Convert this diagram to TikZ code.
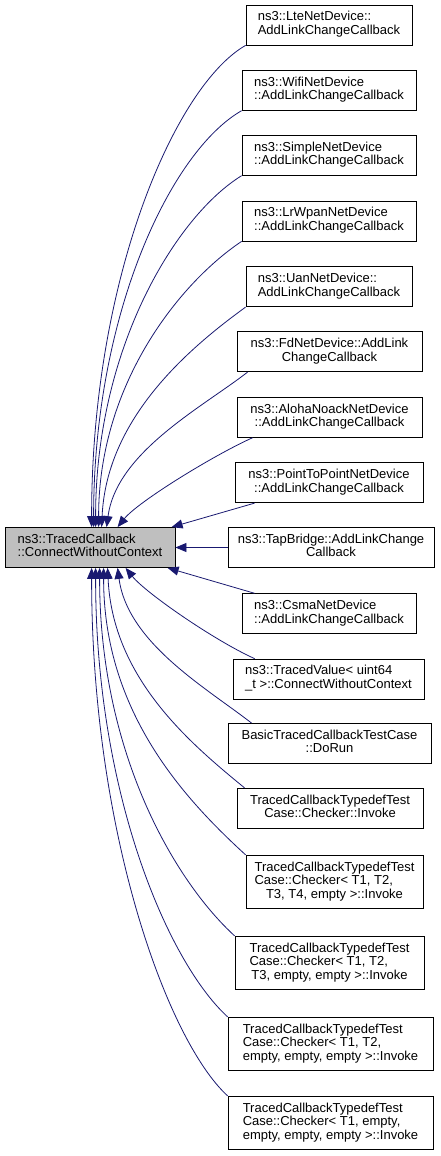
\documentclass[tikz,border=0pt]{standalone}
\usepackage{fontspec}
\setmainfont{Liberation Sans}
\usetikzlibrary{arrows.meta}

\definecolor{edgeblue}{HTML}{191970}
\definecolor{mainfill}{HTML}{BFBFBF}

\newcommand{\lbl}[2]{\begin{tabular}{@{}l@{}}#1\\\multicolumn{1}{@{}c@{}}{#2}\end{tabular}}

\tikzset{
	fn/.style={draw=black, line width=0.8pt, inner xsep=3pt, inner ysep=6.5pt, font=\fontsize{13}{13.5}\selectfont},
	edge/.style={-{Triangle[length=11pt,width=9pt]}, draw=edgeblue, line width=0.8pt},
}

\begin{document}
\begin{tikzpicture}[x=1pt, y=-1pt]

				\useasboundingbox (0, 0) rectangle (440, 1156);

				\node [fn, fill=mainfill, minimum width=170pt] (TC) at (90, 547.5) {\lbl{ns3::TracedCallback}{::ConnectWithoutContext}};

				\node [fn, minimum width=166pt] (A0) at (329, 25) {\lbl{ns3::LteNetDevice::}{AddLinkChangeCallback}};
				\node [fn, minimum width=174pt] (A1) at (329, 90.3) {\lbl{ns3::WifiNetDevice}{::AddLinkChangeCallback}};
				\node [fn, minimum width=174pt] (A2) at (329, 155.3) {\lbl{ns3::SimpleNetDevice}{::AddLinkChangeCallback}};
				\node [fn, minimum width=174pt] (A3) at (329, 221) {\lbl{ns3::LrWpanNetDevice}{::AddLinkChangeCallback}};
				\node [fn, minimum width=166pt] (A4) at (329, 286.7) {\lbl{ns3::UanNetDevice::}{AddLinkChangeCallback}};
				\node [fn, minimum width=185pt] (A5) at (329.5, 351.7) {\lbl{ns3::FdNetDevice::AddLink}{ChangeCallback}};
				\node [fn, minimum width=185pt] (A6) at (329.5, 417.3) {\lbl{ns3::AlohaNoackNetDevice}{::AddLinkChangeCallback}};
				\node [fn, minimum width=188pt] (A7) at (329, 482.7) {\lbl{ns3::PointToPointNetDevice}{::AddLinkChangeCallback}};
				\node [fn, minimum width=206pt] (A8) at (331, 547.5) {\lbl{ns3::TapBridge::AddLinkChange}{Callback}};
				\node [fn, minimum width=174pt] (A9) at (329, 613.7) {\lbl{ns3::CsmaNetDevice}{::AddLinkChangeCallback}};
				\node [fn, minimum width=191pt] (A10) at (328.5, 679) {\lbl{ns3::TracedValue< uint64}{\_t >::ConnectWithoutContext}};
				\node [fn, minimum width=203pt] (A11) at (329.5, 743.5) {\lbl{BasicTracedCallbackTestCase}{::DoRun}};
				\node [fn, minimum width=186pt] (A12) at (330, 808.3) {\lbl{TracedCallbackTypedefTest}{Case::Checker::Invoke}};
				\node [fn, minimum width=177pt] (A13) at (334.5, 882) {\lbl{TracedCallbackTypedefTest\\Case::Checker< T1, T2,}{T3, T4, empty >::Invoke}};
				\node [fn, minimum width=189pt] (A14) at (329.5, 963) {\lbl{TracedCallbackTypedefTest\\Case::Checker< T1, T2,}{T3, empty, empty >::Invoke}};
				\node [fn, minimum width=205pt] (A15) at (330.5, 1044) {\lbl{TracedCallbackTypedefTest\\Case::Checker< T1, T2,}{empty, empty, empty >::Invoke}};
				\node [fn, minimum width=205pt] (A16) at (330.5, 1123) {\lbl{TracedCallbackTypedefTest\\Case::Checker< T1, empty,}{empty, empty, empty >::Invoke}};

				\draw [edge] (A0.south west) .. controls +(-70, 40) and +(0, -250) .. ([xshift=87pt]TC.north west);
				\draw [edge] (A1.south west) .. controls +(-70, 40) and +(0, -215) .. ([xshift=89pt]TC.north west);
				\draw [edge] (A2.south west) .. controls +(-65, 40) and +(0, -180) .. ([xshift=91pt]TC.north west);
				\draw [edge] (A3.south west) .. controls +(-60, 40) and +(0, -145) .. ([xshift=94pt]TC.north west);
				\draw [edge] (A4.south west) .. controls +(-55, 40) and +(5, -110) .. ([xshift=97pt]TC.north west);
				\draw [edge] ([xshift=11pt]A5.south west) .. controls +(-45, 35) and +(10, -75) .. ([xshift=102pt]TC.north west);
				\draw [edge] ([xshift=16pt]A6.south west) .. controls +(-40, 18) and +(20, -25) .. ([xshift=113pt]TC.north west);
				\draw [edge] ([xshift=20pt]A7.south west) -- ([xshift=167pt]TC.north west);
				\draw [edge] (A8) -- (TC);

				\draw [edge] ([xshift=13pt]A9.north west) -- ([xshift=163pt]TC.south west);
				\draw [edge] ([xshift=22pt]A10.north west) .. controls +(-40, -18) and +(20, 25) .. ([xshift=121pt]TC.south west);
				\draw [edge] ([xshift=24pt]A11.north west) .. controls +(-45, -35) and +(10, 75) .. ([xshift=113pt]TC.south west);
				\draw [edge] ([xshift=8pt]A12.north west) .. controls +(-55, -45) and +(5, 110) .. ([xshift=103pt]TC.south west);
				\draw [edge] (A13.north west) .. controls +(-60, -55) and +(0, 145) .. ([xshift=99pt]TC.south west);
				\draw [edge] (A14.north west) .. controls +(-60, -55) and +(0, 185) .. ([xshift=95pt]TC.south west);
				\draw [edge] (A15.north west) .. controls +(-60, -55) and +(0, 225) .. ([xshift=91pt]TC.south west);
				\draw [edge] (A16.north west) .. controls +(-60, -55) and +(0, 265) .. ([xshift=87pt]TC.south west);
		\end{tikzpicture}
\end{document}
